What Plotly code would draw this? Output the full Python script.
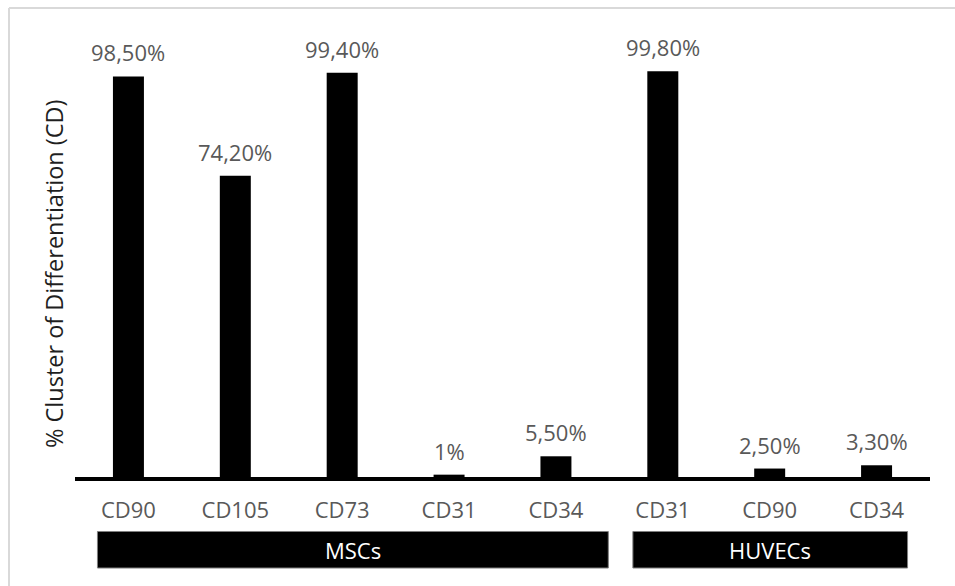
import plotly.graph_objects as go

# Surface-marker expression measured by flow cytometry
markers = ["CD90", "CD105", "CD73", "CD31", "CD34", "CD31", "CD90", "CD34"]
percent = [98.5, 74.2, 99.4, 1, 5.5, 99.8, 2.5, 3.3]
groups = ["MSCs", "HUVECs"]
group_sizes = [5, 3]

W, H = 955, 586
ML, MR, MT, MB = 75, 25, 54, 95
PW, PH = W - ML - MR, H - MT - MB
FONT = "Open Sans"
LABEL_GREY = "#595959"


def px_x(px):
    return (px - ML) / PW


def px_y(py):
    return (H - MB - py) / PH


def fmt(v):
    if float(v).is_integer():
        return f"{int(v)}%"
    return f"{v:.2f}".replace(".", ",") + "%"


xs = list(range(len(markers)))

fig = go.Figure(
    go.Bar(
        x=xs,
        y=percent,
        width=0.29,
        marker=dict(color="black", line=dict(width=0)),
        hoverinfo="skip",
    )
)

annotations = []
for x, v in zip(xs, percent):
    annotations.append(dict(
        x=x, y=v, xref="x", yref="y", text=fmt(v), showarrow=False,
        xanchor="center", yanchor="bottom", yshift=7,
        font=dict(family=FONT, size=22, color=LABEL_GREY),
    ))

# y-axis title
annotations.append(dict(
    x=px_x(54), y=px_y(274), xref="paper", yref="paper",
    xanchor="center", yanchor="middle",
    text="% Cluster of Differentiation (CD)", textangle=-90, showarrow=False,
    font=dict(family=FONT, size=23.5, color="#1f1f1f"),
))

# group bars beneath the tick labels
box_spans = [(-0.29, 4.49), (4.72, 7.29)]
box_top, box_bottom = px_y(531.5), px_y(568)
shapes = []
for name, (x0, x1) in zip(groups, box_spans):
    shapes.append(dict(
        type="rect", xref="x", yref="paper", x0=x0, x1=x1,
        y0=box_bottom, y1=box_top, fillcolor="black",
        line=dict(color="#7f7f7f", width=1), layer="below",
    ))
    annotations.append(dict(
        x=(x0 + x1) / 2, y=(box_top + box_bottom) / 2, xref="x", yref="paper",
        xanchor="center", yanchor="middle",
        text=name, showarrow=False,
        font=dict(family=FONT, size=22, color="white"),
    ))

# light frame around the chart
frame = dict(color="#d9d9d9", width=2)
shapes.append(dict(type="line", xref="paper", yref="paper",
                   x0=px_x(9), x1=px_x(9), y0=px_y(8), y1=px_y(600), line=frame))
shapes.append(dict(type="line", xref="paper", yref="paper",
                   x0=px_x(9), x1=px_x(970), y0=px_y(8), y1=px_y(8), line=frame))

fig.update_layout(
    width=W, height=H,
    margin=dict(l=ML, r=MR, t=MT, b=MB, pad=0),
    paper_bgcolor="white", plot_bgcolor="white",
    showlegend=False,
    annotations=annotations,
    shapes=shapes,
    xaxis=dict(
        range=[-0.5, len(markers) - 0.5],
        tickmode="array", tickvals=xs, ticktext=markers,
        showgrid=False, zeroline=False, showline=False,
        ticks="", ticklabelstandoff=4,
        tickfont=dict(family=FONT, size=22, color=LABEL_GREY),
        fixedrange=True,
    ),
    yaxis=dict(
        range=[-3, 104],
        showgrid=False, showticklabels=False, ticks="", showline=False,
        zeroline=True, zerolinecolor="black", zerolinewidth=4,
        fixedrange=True,
    ),
)

fig.write_html("out.html", config={"displayModeBar": False})
